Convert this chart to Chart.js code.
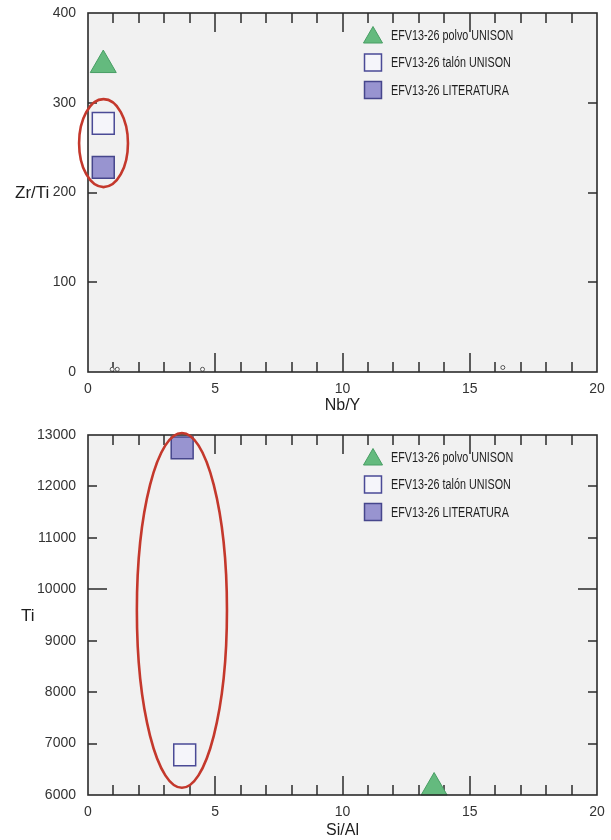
<!DOCTYPE html>
<html>
<head>
<meta charset="utf-8">
<script src="https://cdn.jsdelivr.net/npm/chart.js@4.4.1/dist/chart.umd.min.js"></script>
<style>
    html, body { margin: 0; padding: 0; background: #fff; }
    #graficas { position: relative; width: 611px; height: 840px; }
    .caja { position: absolute; left: 0; width: 611px; height: 420px; }
</style>
</head>
<body>
<div id="graficas">
    <div class="caja" style="top:0"><canvas id="zrChart" width="611" height="420"></canvas></div>
    <div class="caja" style="top:420px"><canvas id="tiChart" width="611" height="420"></canvas></div>
</div>
<script>
// series (nombres de la leyenda)
const series = ["EFV13-26 polvo UNISON", "EFV13-26 talón UNISON", "EFV13-26 LITERATURA"];

// grafica 1: Zr/Ti vs Nb/Y
const polvoNbY = [0.6];
const polvoZrTi = [342];
const talonNbY = [0.6];
const talonZrTi = [277];
const literNbY = [0.6];
const literZrTi = [228];
const otrosNbY = [0.95, 1.15, 4.5, 16.3];
const otrosZrTi = [3, 3, 3, 5];

// grafica 2: Ti vs Si/Al
const polvoSiAl = [13.6];
const polvoTi = [6145];
const talonSiAl = [3.8];
const talonTi = [6780];
const literSiAl = [3.7];
const literTi = [12750];

// etiquetas de los ejes
const ticksX = [0, 5, 10, 15, 20];
const ticksZrTi = [0, 100, 200, 300, 400];
const ticksTi = [6000, 7000, 8000, 9000, 10000, 11000, 12000, 13000];

// zonas marcadas en rojo (centro y semiejes en unidades de datos)
const zonaZrTi = { x: 0.61, y: 255, rx: 0.96, ry: 49 };
const zonaTi = { x: 3.69, y: 9590, rx: 1.77, ry: 3450 };

const fuente = "'Liberation Sans', Arial, sans-serif";

const puntos = (xs, ys) => xs.map((v, i) => ({ x: v, y: ys[i] }));

function dibujaMarca(ctx, estilo, r, x, y) {
    ctx.beginPath();
    if (estilo === 'triangle') {
        ctx.moveTo(x, y - r);
        ctx.lineTo(x + 0.866 * r, y + 0.5 * r);
        ctx.lineTo(x - 0.866 * r, y + 0.5 * r);
        ctx.closePath();
    } else {
        const s = r * Math.SQRT1_2;
        ctx.rect(x - s, y - s, 2 * s, 2 * s);
    }
    ctx.fill();
    ctx.stroke();
}

const marco = {
    id: 'marco',
    beforeDraw(chart) {
        const { ctx, chartArea: a } = chart;
        ctx.save();
        ctx.fillStyle = '#f1f1f1';
        ctx.fillRect(a.left, a.top, a.width, a.height);
        ctx.restore();
    },
    beforeDatasetsDraw(chart, args, opts) {
        const { ctx, chartArea: a, scales: { x, y } } = chart;
        ctx.save();
        ctx.strokeStyle = '#2b2b2b';
        ctx.lineWidth = 1.5;
        ctx.beginPath();
        for (let v = x.min + 1; v < x.max; v += 1) {
            const px = Math.round(x.getPixelForValue(v));
            const len = v % 5 === 0 ? 19 : 10;
            ctx.moveTo(px, a.bottom); ctx.lineTo(px, a.bottom - len);
            ctx.moveTo(px, a.top); ctx.lineTo(px, a.top + len);
        }
        y.ticks.forEach(t => {
            if (t.value <= y.min || t.value >= y.max) return;
            const py = Math.round(y.getPixelForValue(t.value));
            const len = opts.mayorY && t.value % opts.mayorY === 0 ? 19 : 9;
            ctx.moveTo(a.left, py); ctx.lineTo(a.left + len, py);
            ctx.moveTo(a.right, py); ctx.lineTo(a.right - len, py);
        });
        ctx.stroke();
        ctx.restore();
    },
    afterDatasetsDraw(chart, args, opts) {
        const { ctx, chartArea: a, scales: { x, y } } = chart;
        ctx.save();
        // marco
        ctx.strokeStyle = '#2b2b2b';
        ctx.lineWidth = 1.6;
        ctx.strokeRect(a.left, a.top, a.width, a.height);

        // elipse roja
        const z = opts.zona;
        const cx = x.getPixelForValue(z.x), cy = y.getPixelForValue(z.y);
        const rx = Math.abs(x.getPixelForValue(z.x + z.rx) - cx);
        const ry = Math.abs(y.getPixelForValue(z.y + z.ry) - cy);
        ctx.beginPath();
        ctx.ellipse(cx, cy, rx, ry, 0, 0, Math.PI * 2);
        ctx.strokeStyle = 'rgb(196,56,44)';
        ctx.lineWidth = 2.6;
        ctx.stroke();

        // titulo eje y (horizontal)
        ctx.fillStyle = '#1e1e1e';
        ctx.font = '17px ' + fuente;
        ctx.textAlign = 'left';
        ctx.textBaseline = 'middle';
        ctx.fillText(opts.tituloY, opts.tituloYx, (a.top + a.bottom) / 2 + 1);

        // leyenda
        chart.data.datasets.forEach((ds, i) => {
            if (series.indexOf(ds.label) < 0) return;
            const fy = a.top + 22 + i * 27.5;
            const mx = a.right - 224;
            ctx.fillStyle = ds.backgroundColor;
            ctx.strokeStyle = ds.borderColor;
            ctx.lineWidth = ds.borderWidth;
            if (ds.pointStyle === 'triangle') dibujaMarca(ctx, 'triangle', 11, mx, fy + 2.5);
            else dibujaMarca(ctx, 'rect', 12, mx, fy);
            ctx.save();
            ctx.translate(a.right - 206, fy + 1);
            ctx.scale(0.77, 1);
            ctx.fillStyle = '#1e1e1e';
            ctx.font = '14px ' + fuente;
            ctx.fillText(ds.label, 0, 0);
            ctx.restore();
        });
        ctx.restore();
    }
};

function estilos(i) {
    const e = [
        { pointStyle: 'triangle', pointRadius: 15, backgroundColor: 'rgb(100,186,126)', borderColor: 'rgb(72,158,100)', borderWidth: 1 },
        { pointStyle: 'rect', pointRadius: 15.5, backgroundColor: 'rgb(245,245,250)', borderColor: 'rgb(74,74,150)', borderWidth: 1.5 },
        { pointStyle: 'rect', pointRadius: 15.5, backgroundColor: 'rgb(152,148,208)', borderColor: 'rgb(70,70,140)', borderWidth: 1.5 }
    ][i];
    return Object.assign({ label: series[i], showLine: false, clip: false, pointHoverRadius: e.pointRadius }, e);
}

function ejes(tituloX, ticksY, padTitulo) {
    return {
        x: {
            type: 'linear',
            min: ticksX[0],
            max: ticksX[ticksX.length - 1],
            afterBuildTicks: s => { s.ticks = ticksX.map(v => ({ value: v })); },
            afterFit: s => { s.height = 48 - padTitulo.extra; s.paddingLeft = 0; s.paddingRight = 0; },
            ticks: { color: '#333', font: { family: fuente, size: 14 }, padding: 9, maxRotation: 0, callback: v => String(v) },
            grid: { display: false, drawTicks: false },
            border: { display: false },
            title: { display: true, text: tituloX, color: '#1e1e1e', font: { family: fuente, size: 16 }, padding: { top: 0, bottom: padTitulo.bottom } }
        },
        y: {
            type: 'linear',
            min: ticksY[0],
            max: ticksY[ticksY.length - 1],
            afterBuildTicks: s => { s.ticks = ticksY.map(v => ({ value: v })); },
            afterFit: s => { s.width = 88; s.paddingTop = 0; s.paddingBottom = 0; },
            ticks: { color: '#333', font: { family: fuente, size: 14 }, padding: 12, callback: v => String(v) },
            grid: { display: false, drawTicks: false },
            border: { display: false }
        }
    };
}

const zrData = {
    datasets: [
        Object.assign(estilos(0), { data: puntos(polvoNbY, polvoZrTi) }),
        Object.assign(estilos(1), { data: puntos(talonNbY, talonZrTi) }),
        Object.assign(estilos(2), { data: puntos(literNbY, literZrTi) }),
        {
            label: 'otros',
            data: puntos(otrosNbY, otrosZrTi),
            pointStyle: 'circle',
            pointRadius: 2,
            backgroundColor: '#fafafa',
            borderColor: '#555',
            borderWidth: 1,
            showLine: false,
            clip: false
        }
    ]
};

const tiData = {
    datasets: [
        Object.assign(estilos(0), { data: puntos(polvoSiAl, polvoTi) }),
        Object.assign(estilos(1), { data: puntos(talonSiAl, talonTi) }),
        Object.assign(estilos(2), { data: puntos(literSiAl, literTi) })
    ]
};

const zrConfig = {
    type: 'scatter',
    data: zrData,
    plugins: [marco],
    options: {
        responsive: false,
        animation: false,
        events: [],
        layout: { autoPadding: false, padding: { top: 13, right: 14, left: 0, bottom: 0 } },
        plugins: {
            legend: { display: false },
            tooltip: { enabled: false },
            marco: { zona: zonaZrTi, tituloY: 'Zr/Ti', tituloYx: 15, mayorY: 0 }
        },
        scales: ejes('Nb/Y', ticksZrTi, { bottom: 5, extra: 0 })
    }
};

const tiConfig = {
    type: 'scatter',
    data: tiData,
    plugins: [marco],
    options: {
        responsive: false,
        animation: false,
        events: [],
        layout: { autoPadding: false, padding: { top: 15, right: 14, left: 0, bottom: 0 } },
        plugins: {
            legend: { display: false },
            tooltip: { enabled: false },
            marco: { zona: zonaTi, tituloY: 'Ti', tituloYx: 21, mayorY: 5000 }
        },
        scales: ejes('Si/Al', ticksTi, { bottom: 0, extra: 3 })
    }
};

const zrChart = new Chart(document.getElementById('zrChart'), zrConfig);
const tiChart = new Chart(document.getElementById('tiChart'), tiConfig);
</script>
</body>
</html>
